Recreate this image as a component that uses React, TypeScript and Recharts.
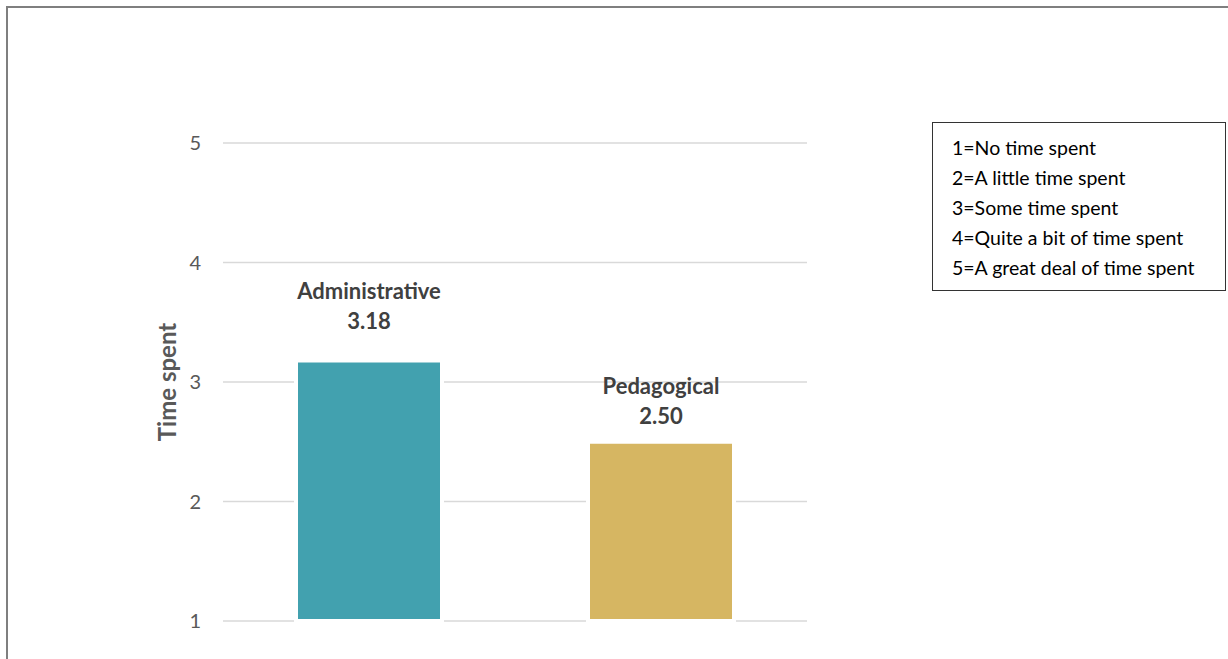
import React from 'react';
import { BarChart, Bar, XAxis, YAxis, CartesianGrid, Cell, LabelList } from 'recharts';

const categories = ['Administrative', 'Pedagogical'];
const meanValues = [3.18, 2.5];
const yTicks = [1, 2, 3, 4, 5];
const scaleNotes = [
  '1=No time spent',
  '2=A little time spent',
  '3=Some time spent',
  '4=Quite a bit of time spent',
  '5=A great deal of time spent',
];

const barColors = ['#42a1af', '#d6b662']; // teal, gold
const labelLift = [40, 26]; // Excel placed the labels by hand

const data = categories.map((name, i) => ({ name, value: meanValues[i] }));

const FONT = 'Lato, "Open Sans", sans-serif';

const BarLabel = (props: any) => {
  const { x, y, width, index, value } = props;
  const cx = x + width / 2;
  const base = y - labelLift[index];
  return (
    <g>
      <text x={cx} y={base - 30} textAnchor="middle" dominantBaseline="central"
        fontFamily={FONT} fontSize={22} fontWeight={700} fill="#404040">
        {categories[index]}
      </text>
      <text x={cx} y={base} textAnchor="middle" dominantBaseline="central"
        fontFamily={FONT} fontSize={22} fontWeight={700} fill="#404040">
        {Number(value).toFixed(2)}
      </text>
    </g>
  );
};

const AxisTitle = (props: any) => {
  const { viewBox } = props;
  const cy = viewBox.y + viewBox.height / 2;
  return (
    <text x={166} y={cy} transform={`rotate(-90, 166, ${cy})`} textAnchor="middle"
      dominantBaseline="central" fontFamily={FONT} fontSize={24} fontWeight={700} fill="#595959">
      Time spent
    </text>
  );
};

const App: React.FC = () => {
  return (
    <div style={{ position: 'absolute', left: 0, top: 0, width: 1228, height: 659, overflow: 'hidden', background: '#fff' }}>
      <div style={{ position: 'absolute', left: 6, top: 6, width: 1300, height: 700, border: '2px solid #7f7f7f' }} />
      <div style={{ position: 'absolute', left: 0, top: 0 }}>
        <BarChart width={1228} height={659} data={data}
          margin={{ top: 143, right: 421, bottom: 38, left: 0 }}>
          <CartesianGrid vertical={false} stroke="#d9d9d9" strokeWidth={1.5} />
          <XAxis dataKey="name" hide />
          <YAxis type="number" domain={[1, 5]} ticks={yTicks} width={223}
            axisLine={false} tickLine={false} tickSize={0} tickMargin={22}
            tick={{ fontFamily: FONT, fontSize: 20, fill: '#595959' }}
            label={<AxisTitle />} />
          <Bar dataKey="value" barSize={146} stroke="#ffffff" strokeWidth={4} isAnimationActive={false}>
            {data.map((d, i) => (
              <Cell key={d.name} fill={barColors[i]} />
            ))}
            <LabelList dataKey="value" content={<BarLabel />} />
          </Bar>
        </BarChart>
      </div>
      <div style={{
        position: 'absolute', left: 932, top: 122, width: 273, height: 157,
        border: '1px solid #333', paddingTop: 10, paddingLeft: 19,
        fontFamily: FONT, fontSize: 19.5, lineHeight: '30px', color: '#000',
        whiteSpace: 'nowrap',
      }}>
        {scaleNotes.map((t) => (
          <div key={t}>{t}</div>
        ))}
      </div>
    </div>
  );
};

export default App;
